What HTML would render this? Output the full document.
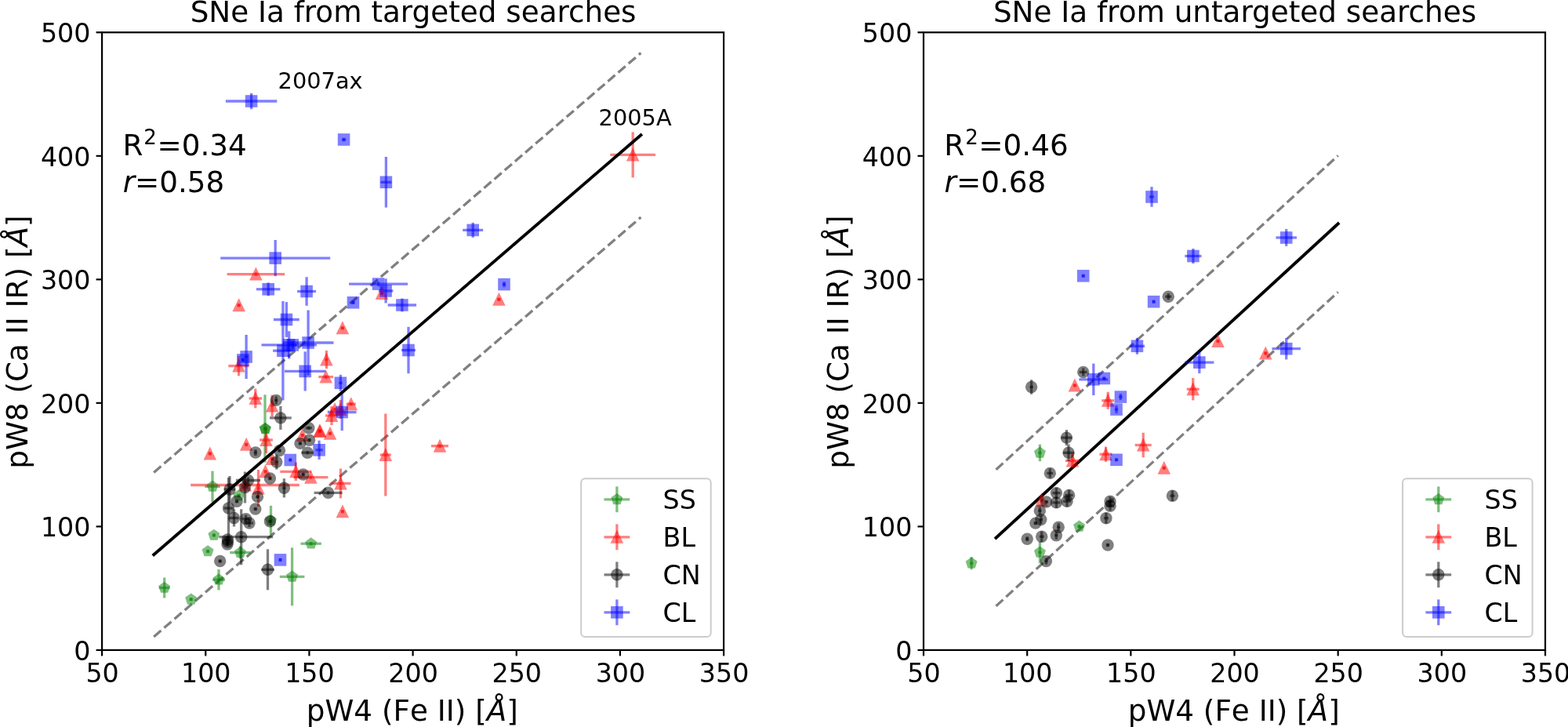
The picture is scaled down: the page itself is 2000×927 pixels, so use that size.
<!DOCTYPE html><html><head><meta charset="utf-8"><style>html,body{margin:0;padding:0;background:#fff;}svg{display:block;}text{font-family:'DejaVu Sans', 'Liberation Sans', sans-serif;} .nk{font-kerning:none;}</style></head><body>
<svg width="2000" height="927" viewBox="0 0 2000 927">
<rect x="0" y="0" width="2000" height="927" fill="#fff"/>
<line x1="196.20" y1="602.43" x2="817.40" y2="67.57" stroke="#808080" stroke-width="3.3" stroke-dasharray="12.13,5.24"/>
<line x1="196.20" y1="811.93" x2="817.40" y2="277.07" stroke="#808080" stroke-width="3.3" stroke-dasharray="12.13,5.24"/>
<line x1="335.80" y1="546.50" x2="340.20" y2="546.50" stroke="#008000" stroke-opacity="0.5" stroke-width="3.3"/>
<line x1="338.00" y1="503.30" x2="338.00" y2="589.70" stroke="#008000" stroke-opacity="0.5" stroke-width="3.3"/>
<line x1="336.40" y1="546.90" x2="340.80" y2="546.90" stroke="#008000" stroke-opacity="0.5" stroke-width="3.3"/>
<line x1="338.60" y1="544.70" x2="338.60" y2="549.10" stroke="#008000" stroke-opacity="0.5" stroke-width="3.3"/>
<line x1="261.30" y1="620.40" x2="280.70" y2="620.40" stroke="#008000" stroke-opacity="0.5" stroke-width="3.3"/>
<line x1="271.00" y1="600.60" x2="271.00" y2="640.20" stroke="#008000" stroke-opacity="0.5" stroke-width="3.3"/>
<line x1="302.40" y1="631.90" x2="306.80" y2="631.90" stroke="#008000" stroke-opacity="0.5" stroke-width="3.3"/>
<line x1="304.60" y1="629.70" x2="304.60" y2="634.10" stroke="#008000" stroke-opacity="0.5" stroke-width="3.3"/>
<line x1="270.70" y1="682.50" x2="275.10" y2="682.50" stroke="#008000" stroke-opacity="0.5" stroke-width="3.3"/>
<line x1="272.90" y1="680.30" x2="272.90" y2="684.70" stroke="#008000" stroke-opacity="0.5" stroke-width="3.3"/>
<line x1="262.90" y1="703.00" x2="267.30" y2="703.00" stroke="#008000" stroke-opacity="0.5" stroke-width="3.3"/>
<line x1="265.10" y1="700.80" x2="265.10" y2="705.20" stroke="#008000" stroke-opacity="0.5" stroke-width="3.3"/>
<line x1="293.20" y1="704.60" x2="319.60" y2="704.60" stroke="#008000" stroke-opacity="0.5" stroke-width="3.3"/>
<line x1="306.40" y1="696.60" x2="306.40" y2="712.60" stroke="#008000" stroke-opacity="0.5" stroke-width="3.3"/>
<line x1="271.00" y1="739.20" x2="287.00" y2="739.20" stroke="#008000" stroke-opacity="0.5" stroke-width="3.3"/>
<line x1="279.00" y1="726.00" x2="279.00" y2="752.40" stroke="#008000" stroke-opacity="0.5" stroke-width="3.3"/>
<line x1="343.30" y1="663.70" x2="347.70" y2="663.70" stroke="#008000" stroke-opacity="0.5" stroke-width="3.3"/>
<line x1="345.50" y1="644.80" x2="345.50" y2="682.60" stroke="#008000" stroke-opacity="0.5" stroke-width="3.3"/>
<line x1="356.80" y1="735.30" x2="388.40" y2="735.30" stroke="#008000" stroke-opacity="0.5" stroke-width="3.3"/>
<line x1="372.60" y1="698.30" x2="372.60" y2="772.30" stroke="#008000" stroke-opacity="0.5" stroke-width="3.3"/>
<line x1="383.50" y1="693.20" x2="409.90" y2="693.20" stroke="#008000" stroke-opacity="0.5" stroke-width="3.3"/>
<line x1="396.70" y1="691.00" x2="396.70" y2="695.40" stroke="#008000" stroke-opacity="0.5" stroke-width="3.3"/>
<line x1="202.70" y1="749.50" x2="216.70" y2="749.50" stroke="#008000" stroke-opacity="0.5" stroke-width="3.3"/>
<line x1="209.70" y1="736.50" x2="209.70" y2="762.50" stroke="#008000" stroke-opacity="0.5" stroke-width="3.3"/>
<line x1="241.50" y1="764.30" x2="245.90" y2="764.30" stroke="#008000" stroke-opacity="0.5" stroke-width="3.3"/>
<line x1="243.70" y1="762.10" x2="243.70" y2="766.50" stroke="#008000" stroke-opacity="0.5" stroke-width="3.3"/>
<line x1="289.60" y1="349.60" x2="363.20" y2="349.60" stroke="#ff0000" stroke-opacity="0.5" stroke-width="3.3"/>
<line x1="326.40" y1="347.40" x2="326.40" y2="351.80" stroke="#ff0000" stroke-opacity="0.5" stroke-width="3.3"/>
<line x1="302.50" y1="389.30" x2="306.90" y2="389.30" stroke="#ff0000" stroke-opacity="0.5" stroke-width="3.3"/>
<line x1="304.70" y1="387.10" x2="304.70" y2="391.50" stroke="#ff0000" stroke-opacity="0.5" stroke-width="3.3"/>
<line x1="484.80" y1="374.00" x2="489.20" y2="374.00" stroke="#ff0000" stroke-opacity="0.5" stroke-width="3.3"/>
<line x1="487.00" y1="371.80" x2="487.00" y2="376.20" stroke="#ff0000" stroke-opacity="0.5" stroke-width="3.3"/>
<line x1="434.70" y1="418.30" x2="439.10" y2="418.30" stroke="#ff0000" stroke-opacity="0.5" stroke-width="3.3"/>
<line x1="436.90" y1="416.10" x2="436.90" y2="420.50" stroke="#ff0000" stroke-opacity="0.5" stroke-width="3.3"/>
<line x1="291.30" y1="466.60" x2="317.70" y2="466.60" stroke="#ff0000" stroke-opacity="0.5" stroke-width="3.3"/>
<line x1="304.50" y1="453.90" x2="304.50" y2="479.30" stroke="#ff0000" stroke-opacity="0.5" stroke-width="3.3"/>
<line x1="414.20" y1="458.50" x2="418.60" y2="458.50" stroke="#ff0000" stroke-opacity="0.5" stroke-width="3.3"/>
<line x1="416.40" y1="446.90" x2="416.40" y2="470.10" stroke="#ff0000" stroke-opacity="0.5" stroke-width="3.3"/>
<line x1="406.30" y1="480.60" x2="425.10" y2="480.60" stroke="#ff0000" stroke-opacity="0.5" stroke-width="3.3"/>
<line x1="415.70" y1="478.40" x2="415.70" y2="482.80" stroke="#ff0000" stroke-opacity="0.5" stroke-width="3.3"/>
<line x1="317.60" y1="508.00" x2="334.00" y2="508.00" stroke="#ff0000" stroke-opacity="0.5" stroke-width="3.3"/>
<line x1="325.80" y1="495.60" x2="325.80" y2="520.40" stroke="#ff0000" stroke-opacity="0.5" stroke-width="3.3"/>
<line x1="344.90" y1="517.40" x2="349.30" y2="517.40" stroke="#ff0000" stroke-opacity="0.5" stroke-width="3.3"/>
<line x1="347.10" y1="503.60" x2="347.10" y2="531.20" stroke="#ff0000" stroke-opacity="0.5" stroke-width="3.3"/>
<line x1="441.80" y1="515.20" x2="453.80" y2="515.20" stroke="#ff0000" stroke-opacity="0.5" stroke-width="3.3"/>
<line x1="447.80" y1="513.00" x2="447.80" y2="517.40" stroke="#ff0000" stroke-opacity="0.5" stroke-width="3.3"/>
<line x1="432.10" y1="522.00" x2="436.50" y2="522.00" stroke="#ff0000" stroke-opacity="0.5" stroke-width="3.3"/>
<line x1="434.30" y1="510.00" x2="434.30" y2="534.00" stroke="#ff0000" stroke-opacity="0.5" stroke-width="3.3"/>
<line x1="415.00" y1="530.00" x2="431.00" y2="530.00" stroke="#ff0000" stroke-opacity="0.5" stroke-width="3.3"/>
<line x1="423.00" y1="518.00" x2="423.00" y2="542.00" stroke="#ff0000" stroke-opacity="0.5" stroke-width="3.3"/>
<line x1="424.80" y1="522.00" x2="429.20" y2="522.00" stroke="#ff0000" stroke-opacity="0.5" stroke-width="3.3"/>
<line x1="427.00" y1="519.80" x2="427.00" y2="524.20" stroke="#ff0000" stroke-opacity="0.5" stroke-width="3.3"/>
<line x1="406.00" y1="549.40" x2="410.40" y2="549.40" stroke="#ff0000" stroke-opacity="0.5" stroke-width="3.3"/>
<line x1="408.20" y1="547.20" x2="408.20" y2="551.60" stroke="#ff0000" stroke-opacity="0.5" stroke-width="3.3"/>
<line x1="405.40" y1="549.80" x2="409.80" y2="549.80" stroke="#ff0000" stroke-opacity="0.5" stroke-width="3.3"/>
<line x1="407.60" y1="547.60" x2="407.60" y2="552.00" stroke="#ff0000" stroke-opacity="0.5" stroke-width="3.3"/>
<line x1="418.80" y1="552.80" x2="423.20" y2="552.80" stroke="#ff0000" stroke-opacity="0.5" stroke-width="3.3"/>
<line x1="421.00" y1="550.60" x2="421.00" y2="555.00" stroke="#ff0000" stroke-opacity="0.5" stroke-width="3.3"/>
<line x1="331.10" y1="561.00" x2="347.90" y2="561.00" stroke="#ff0000" stroke-opacity="0.5" stroke-width="3.3"/>
<line x1="339.50" y1="544.00" x2="339.50" y2="578.00" stroke="#ff0000" stroke-opacity="0.5" stroke-width="3.3"/>
<line x1="312.00" y1="566.80" x2="316.40" y2="566.80" stroke="#ff0000" stroke-opacity="0.5" stroke-width="3.3"/>
<line x1="314.20" y1="564.60" x2="314.20" y2="569.00" stroke="#ff0000" stroke-opacity="0.5" stroke-width="3.3"/>
<line x1="383.50" y1="554.90" x2="387.90" y2="554.90" stroke="#ff0000" stroke-opacity="0.5" stroke-width="3.3"/>
<line x1="385.70" y1="552.70" x2="385.70" y2="557.10" stroke="#ff0000" stroke-opacity="0.5" stroke-width="3.3"/>
<line x1="265.60" y1="578.40" x2="270.00" y2="578.40" stroke="#ff0000" stroke-opacity="0.5" stroke-width="3.3"/>
<line x1="267.80" y1="576.20" x2="267.80" y2="580.60" stroke="#ff0000" stroke-opacity="0.5" stroke-width="3.3"/>
<line x1="344.80" y1="585.00" x2="349.20" y2="585.00" stroke="#ff0000" stroke-opacity="0.5" stroke-width="3.3"/>
<line x1="347.00" y1="582.80" x2="347.00" y2="587.20" stroke="#ff0000" stroke-opacity="0.5" stroke-width="3.3"/>
<line x1="357.30" y1="601.30" x2="397.30" y2="601.30" stroke="#ff0000" stroke-opacity="0.5" stroke-width="3.3"/>
<line x1="377.30" y1="589.50" x2="377.30" y2="613.10" stroke="#ff0000" stroke-opacity="0.5" stroke-width="3.3"/>
<line x1="374.40" y1="608.70" x2="418.40" y2="608.70" stroke="#ff0000" stroke-opacity="0.5" stroke-width="3.3"/>
<line x1="396.40" y1="606.50" x2="396.40" y2="610.90" stroke="#ff0000" stroke-opacity="0.5" stroke-width="3.3"/>
<line x1="336.30" y1="601.30" x2="340.70" y2="601.30" stroke="#ff0000" stroke-opacity="0.5" stroke-width="3.3"/>
<line x1="338.50" y1="599.10" x2="338.50" y2="603.50" stroke="#ff0000" stroke-opacity="0.5" stroke-width="3.3"/>
<line x1="327.30" y1="622.50" x2="331.70" y2="622.50" stroke="#ff0000" stroke-opacity="0.5" stroke-width="3.3"/>
<line x1="329.50" y1="599.00" x2="329.50" y2="646.00" stroke="#ff0000" stroke-opacity="0.5" stroke-width="3.3"/>
<line x1="243.20" y1="618.50" x2="381.80" y2="618.50" stroke="#ff0000" stroke-opacity="0.5" stroke-width="3.3"/>
<line x1="312.50" y1="616.30" x2="312.50" y2="620.70" stroke="#ff0000" stroke-opacity="0.5" stroke-width="3.3"/>
<line x1="421.50" y1="616.40" x2="447.50" y2="616.40" stroke="#ff0000" stroke-opacity="0.5" stroke-width="3.3"/>
<line x1="434.50" y1="597.50" x2="434.50" y2="635.30" stroke="#ff0000" stroke-opacity="0.5" stroke-width="3.3"/>
<line x1="434.70" y1="652.20" x2="439.10" y2="652.20" stroke="#ff0000" stroke-opacity="0.5" stroke-width="3.3"/>
<line x1="436.90" y1="650.00" x2="436.90" y2="654.40" stroke="#ff0000" stroke-opacity="0.5" stroke-width="3.3"/>
<line x1="484.80" y1="580.00" x2="498.80" y2="580.00" stroke="#ff0000" stroke-opacity="0.5" stroke-width="3.3"/>
<line x1="491.80" y1="527.50" x2="491.80" y2="632.50" stroke="#ff0000" stroke-opacity="0.5" stroke-width="3.3"/>
<line x1="550.00" y1="568.70" x2="572.00" y2="568.70" stroke="#ff0000" stroke-opacity="0.5" stroke-width="3.3"/>
<line x1="561.00" y1="566.50" x2="561.00" y2="570.90" stroke="#ff0000" stroke-opacity="0.5" stroke-width="3.3"/>
<line x1="634.20" y1="381.80" x2="638.60" y2="381.80" stroke="#ff0000" stroke-opacity="0.5" stroke-width="3.3"/>
<line x1="636.40" y1="379.60" x2="636.40" y2="384.00" stroke="#ff0000" stroke-opacity="0.5" stroke-width="3.3"/>
<line x1="778.30" y1="197.40" x2="836.10" y2="197.40" stroke="#ff0000" stroke-opacity="0.5" stroke-width="3.3"/>
<line x1="807.20" y1="168.40" x2="807.20" y2="226.40" stroke="#ff0000" stroke-opacity="0.5" stroke-width="3.3"/>
<line x1="350.00" y1="510.40" x2="354.40" y2="510.40" stroke="#000000" stroke-opacity="0.5" stroke-width="3.3"/>
<line x1="352.20" y1="505.40" x2="352.20" y2="515.40" stroke="#000000" stroke-opacity="0.5" stroke-width="3.3"/>
<line x1="344.00" y1="532.90" x2="371.80" y2="532.90" stroke="#000000" stroke-opacity="0.5" stroke-width="3.3"/>
<line x1="357.90" y1="517.90" x2="357.90" y2="547.90" stroke="#000000" stroke-opacity="0.5" stroke-width="3.3"/>
<line x1="389.80" y1="545.70" x2="397.80" y2="545.70" stroke="#000000" stroke-opacity="0.5" stroke-width="3.3"/>
<line x1="393.80" y1="543.50" x2="393.80" y2="547.90" stroke="#000000" stroke-opacity="0.5" stroke-width="3.3"/>
<line x1="392.40" y1="561.20" x2="396.80" y2="561.20" stroke="#000000" stroke-opacity="0.5" stroke-width="3.3"/>
<line x1="394.60" y1="559.00" x2="394.60" y2="563.40" stroke="#000000" stroke-opacity="0.5" stroke-width="3.3"/>
<line x1="380.70" y1="565.40" x2="385.10" y2="565.40" stroke="#000000" stroke-opacity="0.5" stroke-width="3.3"/>
<line x1="382.90" y1="563.20" x2="382.90" y2="567.60" stroke="#000000" stroke-opacity="0.5" stroke-width="3.3"/>
<line x1="384.60" y1="577.20" x2="399.80" y2="577.20" stroke="#000000" stroke-opacity="0.5" stroke-width="3.3"/>
<line x1="392.20" y1="575.00" x2="392.20" y2="579.40" stroke="#000000" stroke-opacity="0.5" stroke-width="3.3"/>
<line x1="323.70" y1="577.00" x2="328.10" y2="577.00" stroke="#000000" stroke-opacity="0.5" stroke-width="3.3"/>
<line x1="325.90" y1="573.00" x2="325.90" y2="581.00" stroke="#000000" stroke-opacity="0.5" stroke-width="3.3"/>
<line x1="354.30" y1="574.50" x2="358.70" y2="574.50" stroke="#000000" stroke-opacity="0.5" stroke-width="3.3"/>
<line x1="356.50" y1="572.30" x2="356.50" y2="576.70" stroke="#000000" stroke-opacity="0.5" stroke-width="3.3"/>
<line x1="350.60" y1="589.10" x2="355.00" y2="589.10" stroke="#000000" stroke-opacity="0.5" stroke-width="3.3"/>
<line x1="352.80" y1="579.60" x2="352.80" y2="598.60" stroke="#000000" stroke-opacity="0.5" stroke-width="3.3"/>
<line x1="384.50" y1="605.00" x2="388.90" y2="605.00" stroke="#000000" stroke-opacity="0.5" stroke-width="3.3"/>
<line x1="386.70" y1="602.80" x2="386.70" y2="607.20" stroke="#000000" stroke-opacity="0.5" stroke-width="3.3"/>
<line x1="342.20" y1="610.00" x2="346.60" y2="610.00" stroke="#000000" stroke-opacity="0.5" stroke-width="3.3"/>
<line x1="344.40" y1="607.80" x2="344.40" y2="612.20" stroke="#000000" stroke-opacity="0.5" stroke-width="3.3"/>
<line x1="300.90" y1="612.50" x2="332.10" y2="612.50" stroke="#000000" stroke-opacity="0.5" stroke-width="3.3"/>
<line x1="316.50" y1="608.50" x2="316.50" y2="616.50" stroke="#000000" stroke-opacity="0.5" stroke-width="3.3"/>
<line x1="308.50" y1="621.50" x2="316.50" y2="621.50" stroke="#000000" stroke-opacity="0.5" stroke-width="3.3"/>
<line x1="312.50" y1="601.50" x2="312.50" y2="641.50" stroke="#000000" stroke-opacity="0.5" stroke-width="3.3"/>
<line x1="286.00" y1="624.00" x2="300.00" y2="624.00" stroke="#000000" stroke-opacity="0.5" stroke-width="3.3"/>
<line x1="293.00" y1="607.00" x2="293.00" y2="641.00" stroke="#000000" stroke-opacity="0.5" stroke-width="3.3"/>
<line x1="299.90" y1="639.30" x2="304.30" y2="639.30" stroke="#000000" stroke-opacity="0.5" stroke-width="3.3"/>
<line x1="302.10" y1="637.10" x2="302.10" y2="641.50" stroke="#000000" stroke-opacity="0.5" stroke-width="3.3"/>
<line x1="360.20" y1="622.30" x2="364.60" y2="622.30" stroke="#000000" stroke-opacity="0.5" stroke-width="3.3"/>
<line x1="362.40" y1="610.20" x2="362.40" y2="634.40" stroke="#000000" stroke-opacity="0.5" stroke-width="3.3"/>
<line x1="326.30" y1="633.40" x2="330.70" y2="633.40" stroke="#000000" stroke-opacity="0.5" stroke-width="3.3"/>
<line x1="328.50" y1="631.20" x2="328.50" y2="635.60" stroke="#000000" stroke-opacity="0.5" stroke-width="3.3"/>
<line x1="323.60" y1="649.00" x2="328.00" y2="649.00" stroke="#000000" stroke-opacity="0.5" stroke-width="3.3"/>
<line x1="325.80" y1="646.80" x2="325.80" y2="651.20" stroke="#000000" stroke-opacity="0.5" stroke-width="3.3"/>
<line x1="400.60" y1="628.30" x2="436.60" y2="628.30" stroke="#000000" stroke-opacity="0.5" stroke-width="3.3"/>
<line x1="418.60" y1="626.10" x2="418.60" y2="630.50" stroke="#000000" stroke-opacity="0.5" stroke-width="3.3"/>
<line x1="285.50" y1="648.00" x2="297.50" y2="648.00" stroke="#000000" stroke-opacity="0.5" stroke-width="3.3"/>
<line x1="291.50" y1="609.00" x2="291.50" y2="687.00" stroke="#000000" stroke-opacity="0.5" stroke-width="3.3"/>
<line x1="292.50" y1="660.50" x2="304.50" y2="660.50" stroke="#000000" stroke-opacity="0.5" stroke-width="3.3"/>
<line x1="298.50" y1="649.50" x2="298.50" y2="671.50" stroke="#000000" stroke-opacity="0.5" stroke-width="3.3"/>
<line x1="308.60" y1="661.60" x2="318.60" y2="661.60" stroke="#000000" stroke-opacity="0.5" stroke-width="3.3"/>
<line x1="313.60" y1="656.60" x2="313.60" y2="666.60" stroke="#000000" stroke-opacity="0.5" stroke-width="3.3"/>
<line x1="313.00" y1="667.00" x2="323.00" y2="667.00" stroke="#000000" stroke-opacity="0.5" stroke-width="3.3"/>
<line x1="318.00" y1="662.00" x2="318.00" y2="672.00" stroke="#000000" stroke-opacity="0.5" stroke-width="3.3"/>
<line x1="305.50" y1="684.80" x2="309.90" y2="684.80" stroke="#000000" stroke-opacity="0.5" stroke-width="3.3"/>
<line x1="307.70" y1="649.30" x2="307.70" y2="720.30" stroke="#000000" stroke-opacity="0.5" stroke-width="3.3"/>
<line x1="279.30" y1="684.60" x2="348.20" y2="684.60" stroke="#000000" stroke-opacity="0.5" stroke-width="3.3"/>
<line x1="286.30" y1="688.00" x2="294.30" y2="688.00" stroke="#000000" stroke-opacity="0.5" stroke-width="3.3"/>
<line x1="290.30" y1="684.00" x2="290.30" y2="692.00" stroke="#000000" stroke-opacity="0.5" stroke-width="3.3"/>
<line x1="288.30" y1="691.00" x2="292.70" y2="691.00" stroke="#000000" stroke-opacity="0.5" stroke-width="3.3"/>
<line x1="290.50" y1="688.80" x2="290.50" y2="693.20" stroke="#000000" stroke-opacity="0.5" stroke-width="3.3"/>
<line x1="287.80" y1="694.00" x2="292.20" y2="694.00" stroke="#000000" stroke-opacity="0.5" stroke-width="3.3"/>
<line x1="290.00" y1="691.80" x2="290.00" y2="696.20" stroke="#000000" stroke-opacity="0.5" stroke-width="3.3"/>
<line x1="278.50" y1="715.50" x2="282.90" y2="715.50" stroke="#000000" stroke-opacity="0.5" stroke-width="3.3"/>
<line x1="280.70" y1="713.30" x2="280.70" y2="717.70" stroke="#000000" stroke-opacity="0.5" stroke-width="3.3"/>
<line x1="342.20" y1="664.80" x2="346.60" y2="664.80" stroke="#000000" stroke-opacity="0.5" stroke-width="3.3"/>
<line x1="344.40" y1="662.60" x2="344.40" y2="667.00" stroke="#000000" stroke-opacity="0.5" stroke-width="3.3"/>
<line x1="333.10" y1="726.30" x2="349.90" y2="726.30" stroke="#000000" stroke-opacity="0.5" stroke-width="3.3"/>
<line x1="341.50" y1="700.30" x2="341.50" y2="752.30" stroke="#000000" stroke-opacity="0.5" stroke-width="3.3"/>
<line x1="287.90" y1="129.00" x2="353.30" y2="129.00" stroke="#0000ff" stroke-opacity="0.5" stroke-width="3.3"/>
<line x1="320.60" y1="118.80" x2="320.60" y2="139.20" stroke="#0000ff" stroke-opacity="0.5" stroke-width="3.3"/>
<line x1="435.90" y1="178.00" x2="441.30" y2="178.00" stroke="#0000ff" stroke-opacity="0.5" stroke-width="3.3"/>
<line x1="438.60" y1="175.80" x2="438.60" y2="180.20" stroke="#0000ff" stroke-opacity="0.5" stroke-width="3.3"/>
<line x1="485.40" y1="232.30" x2="499.40" y2="232.30" stroke="#0000ff" stroke-opacity="0.5" stroke-width="3.3"/>
<line x1="492.40" y1="200.00" x2="492.40" y2="264.60" stroke="#0000ff" stroke-opacity="0.5" stroke-width="3.3"/>
<line x1="281.20" y1="329.10" x2="421.20" y2="329.10" stroke="#0000ff" stroke-opacity="0.5" stroke-width="3.3"/>
<line x1="351.20" y1="306.00" x2="351.20" y2="352.20" stroke="#0000ff" stroke-opacity="0.5" stroke-width="3.3"/>
<line x1="327.00" y1="368.80" x2="357.40" y2="368.80" stroke="#0000ff" stroke-opacity="0.5" stroke-width="3.3"/>
<line x1="342.20" y1="360.30" x2="342.20" y2="377.30" stroke="#0000ff" stroke-opacity="0.5" stroke-width="3.3"/>
<line x1="379.10" y1="371.50" x2="403.10" y2="371.50" stroke="#0000ff" stroke-opacity="0.5" stroke-width="3.3"/>
<line x1="391.10" y1="353.20" x2="391.10" y2="389.80" stroke="#0000ff" stroke-opacity="0.5" stroke-width="3.3"/>
<line x1="349.00" y1="407.50" x2="381.80" y2="407.50" stroke="#0000ff" stroke-opacity="0.5" stroke-width="3.3"/>
<line x1="365.40" y1="385.10" x2="365.40" y2="429.90" stroke="#0000ff" stroke-opacity="0.5" stroke-width="3.3"/>
<line x1="333.50" y1="439.90" x2="403.90" y2="439.90" stroke="#0000ff" stroke-opacity="0.5" stroke-width="3.3"/>
<line x1="368.70" y1="422.30" x2="368.70" y2="457.50" stroke="#0000ff" stroke-opacity="0.5" stroke-width="3.3"/>
<line x1="368.30" y1="439.90" x2="378.30" y2="439.90" stroke="#0000ff" stroke-opacity="0.5" stroke-width="3.3"/>
<line x1="373.30" y1="434.90" x2="373.30" y2="444.90" stroke="#0000ff" stroke-opacity="0.5" stroke-width="3.3"/>
<line x1="348.10" y1="447.20" x2="373.70" y2="447.20" stroke="#0000ff" stroke-opacity="0.5" stroke-width="3.3"/>
<line x1="360.90" y1="384.00" x2="360.90" y2="510.40" stroke="#0000ff" stroke-opacity="0.5" stroke-width="3.3"/>
<line x1="360.70" y1="437.00" x2="425.50" y2="437.00" stroke="#0000ff" stroke-opacity="0.5" stroke-width="3.3"/>
<line x1="393.10" y1="395.50" x2="393.10" y2="478.50" stroke="#0000ff" stroke-opacity="0.5" stroke-width="3.3"/>
<line x1="363.00" y1="473.40" x2="415.40" y2="473.40" stroke="#0000ff" stroke-opacity="0.5" stroke-width="3.3"/>
<line x1="389.20" y1="448.30" x2="389.20" y2="498.50" stroke="#0000ff" stroke-opacity="0.5" stroke-width="3.3"/>
<line x1="448.30" y1="385.80" x2="452.70" y2="385.80" stroke="#0000ff" stroke-opacity="0.5" stroke-width="3.3"/>
<line x1="450.50" y1="383.60" x2="450.50" y2="388.00" stroke="#0000ff" stroke-opacity="0.5" stroke-width="3.3"/>
<line x1="445.10" y1="362.10" x2="520.10" y2="362.10" stroke="#0000ff" stroke-opacity="0.5" stroke-width="3.3"/>
<line x1="482.60" y1="359.10" x2="482.60" y2="365.10" stroke="#0000ff" stroke-opacity="0.5" stroke-width="3.3"/>
<line x1="482.80" y1="370.90" x2="501.40" y2="370.90" stroke="#0000ff" stroke-opacity="0.5" stroke-width="3.3"/>
<line x1="492.10" y1="355.30" x2="492.10" y2="386.50" stroke="#0000ff" stroke-opacity="0.5" stroke-width="3.3"/>
<line x1="494.70" y1="389.00" x2="531.10" y2="389.00" stroke="#0000ff" stroke-opacity="0.5" stroke-width="3.3"/>
<line x1="512.90" y1="380.60" x2="512.90" y2="397.40" stroke="#0000ff" stroke-opacity="0.5" stroke-width="3.3"/>
<line x1="311.90" y1="455.00" x2="316.30" y2="455.00" stroke="#0000ff" stroke-opacity="0.5" stroke-width="3.3"/>
<line x1="314.10" y1="426.90" x2="314.10" y2="483.10" stroke="#0000ff" stroke-opacity="0.5" stroke-width="3.3"/>
<line x1="307.70" y1="459.00" x2="312.10" y2="459.00" stroke="#0000ff" stroke-opacity="0.5" stroke-width="3.3"/>
<line x1="309.90" y1="456.80" x2="309.90" y2="461.20" stroke="#0000ff" stroke-opacity="0.5" stroke-width="3.3"/>
<line x1="432.20" y1="488.30" x2="436.60" y2="488.30" stroke="#0000ff" stroke-opacity="0.5" stroke-width="3.3"/>
<line x1="434.40" y1="477.90" x2="434.40" y2="498.70" stroke="#0000ff" stroke-opacity="0.5" stroke-width="3.3"/>
<line x1="512.00" y1="446.50" x2="530.00" y2="446.50" stroke="#0000ff" stroke-opacity="0.5" stroke-width="3.3"/>
<line x1="521.00" y1="416.80" x2="521.00" y2="476.20" stroke="#0000ff" stroke-opacity="0.5" stroke-width="3.3"/>
<line x1="417.80" y1="525.50" x2="454.60" y2="525.50" stroke="#0000ff" stroke-opacity="0.5" stroke-width="3.3"/>
<line x1="436.20" y1="501.90" x2="436.20" y2="549.10" stroke="#0000ff" stroke-opacity="0.5" stroke-width="3.3"/>
<line x1="402.40" y1="573.80" x2="411.80" y2="573.80" stroke="#0000ff" stroke-opacity="0.5" stroke-width="3.3"/>
<line x1="407.10" y1="561.70" x2="407.10" y2="585.90" stroke="#0000ff" stroke-opacity="0.5" stroke-width="3.3"/>
<line x1="368.10" y1="586.50" x2="372.50" y2="586.50" stroke="#0000ff" stroke-opacity="0.5" stroke-width="3.3"/>
<line x1="370.30" y1="584.30" x2="370.30" y2="588.70" stroke="#0000ff" stroke-opacity="0.5" stroke-width="3.3"/>
<line x1="355.30" y1="713.90" x2="359.70" y2="713.90" stroke="#0000ff" stroke-opacity="0.5" stroke-width="3.3"/>
<line x1="357.50" y1="711.70" x2="357.50" y2="716.10" stroke="#0000ff" stroke-opacity="0.5" stroke-width="3.3"/>
<line x1="590.20" y1="293.40" x2="616.20" y2="293.40" stroke="#0000ff" stroke-opacity="0.5" stroke-width="3.3"/>
<line x1="603.20" y1="283.90" x2="603.20" y2="302.90" stroke="#0000ff" stroke-opacity="0.5" stroke-width="3.3"/>
<line x1="640.80" y1="362.60" x2="645.20" y2="362.60" stroke="#0000ff" stroke-opacity="0.5" stroke-width="3.3"/>
<line x1="643.00" y1="359.10" x2="643.00" y2="366.10" stroke="#0000ff" stroke-opacity="0.5" stroke-width="3.3"/>
<polygon points="338.00,538.65 345.47,544.07 342.61,552.85 333.39,552.85 330.53,544.07" fill="#008000" fill-opacity="0.5"/>
<polygon points="338.60,539.05 346.07,544.47 343.21,553.25 333.99,553.25 331.13,544.47" fill="#008000" fill-opacity="0.5"/>
<polygon points="271.00,612.55 278.47,617.97 275.61,626.75 266.39,626.75 263.53,617.97" fill="#008000" fill-opacity="0.5"/>
<polygon points="304.60,624.05 312.07,629.47 309.21,638.25 299.99,638.25 297.13,629.47" fill="#008000" fill-opacity="0.5"/>
<polygon points="272.90,674.65 280.37,680.07 277.51,688.85 268.29,688.85 265.43,680.07" fill="#008000" fill-opacity="0.5"/>
<polygon points="265.10,695.15 272.57,700.57 269.71,709.35 260.49,709.35 257.63,700.57" fill="#008000" fill-opacity="0.5"/>
<polygon points="306.40,696.75 313.87,702.17 311.01,710.95 301.79,710.95 298.93,702.17" fill="#008000" fill-opacity="0.5"/>
<polygon points="279.00,731.35 286.47,736.77 283.61,745.55 274.39,745.55 271.53,736.77" fill="#008000" fill-opacity="0.5"/>
<polygon points="345.50,655.85 352.97,661.27 350.11,670.05 340.89,670.05 338.03,661.27" fill="#008000" fill-opacity="0.5"/>
<polygon points="372.60,727.45 380.07,732.87 377.21,741.65 367.99,741.65 365.13,732.87" fill="#008000" fill-opacity="0.5"/>
<polygon points="396.70,685.35 404.17,690.77 401.31,699.55 392.09,699.55 389.23,690.77" fill="#008000" fill-opacity="0.5"/>
<polygon points="209.70,741.65 217.17,747.07 214.31,755.85 205.09,755.85 202.23,747.07" fill="#008000" fill-opacity="0.5"/>
<polygon points="243.70,756.45 251.17,761.87 248.31,770.65 239.09,770.65 236.23,761.87" fill="#008000" fill-opacity="0.5"/>
<path d="M326.40,340.60L318.10,357.60L334.70,357.60Z" fill="#ff0000" fill-opacity="0.5"/>
<path d="M304.70,380.30L296.40,397.30L313.00,397.30Z" fill="#ff0000" fill-opacity="0.5"/>
<path d="M487.00,365.00L478.70,382.00L495.30,382.00Z" fill="#ff0000" fill-opacity="0.5"/>
<path d="M436.90,409.30L428.60,426.30L445.20,426.30Z" fill="#ff0000" fill-opacity="0.5"/>
<path d="M304.50,457.60L296.20,474.60L312.80,474.60Z" fill="#ff0000" fill-opacity="0.5"/>
<path d="M416.40,449.50L408.10,466.50L424.70,466.50Z" fill="#ff0000" fill-opacity="0.5"/>
<path d="M415.70,471.60L407.40,488.60L424.00,488.60Z" fill="#ff0000" fill-opacity="0.5"/>
<path d="M325.80,499.00L317.50,516.00L334.10,516.00Z" fill="#ff0000" fill-opacity="0.5"/>
<path d="M347.10,508.40L338.80,525.40L355.40,525.40Z" fill="#ff0000" fill-opacity="0.5"/>
<path d="M447.80,506.20L439.50,523.20L456.10,523.20Z" fill="#ff0000" fill-opacity="0.5"/>
<path d="M434.30,513.00L426.00,530.00L442.60,530.00Z" fill="#ff0000" fill-opacity="0.5"/>
<path d="M423.00,521.00L414.70,538.00L431.30,538.00Z" fill="#ff0000" fill-opacity="0.5"/>
<path d="M427.00,513.00L418.70,530.00L435.30,530.00Z" fill="#ff0000" fill-opacity="0.5"/>
<path d="M408.20,540.40L399.90,557.40L416.50,557.40Z" fill="#ff0000" fill-opacity="0.5"/>
<path d="M407.60,540.80L399.30,557.80L415.90,557.80Z" fill="#ff0000" fill-opacity="0.5"/>
<path d="M421.00,543.80L412.70,560.80L429.30,560.80Z" fill="#ff0000" fill-opacity="0.5"/>
<path d="M339.50,552.00L331.20,569.00L347.80,569.00Z" fill="#ff0000" fill-opacity="0.5"/>
<path d="M314.20,557.80L305.90,574.80L322.50,574.80Z" fill="#ff0000" fill-opacity="0.5"/>
<path d="M385.70,545.90L377.40,562.90L394.00,562.90Z" fill="#ff0000" fill-opacity="0.5"/>
<path d="M267.80,569.40L259.50,586.40L276.10,586.40Z" fill="#ff0000" fill-opacity="0.5"/>
<path d="M347.00,576.00L338.70,593.00L355.30,593.00Z" fill="#ff0000" fill-opacity="0.5"/>
<path d="M377.30,592.30L369.00,609.30L385.60,609.30Z" fill="#ff0000" fill-opacity="0.5"/>
<path d="M396.40,599.70L388.10,616.70L404.70,616.70Z" fill="#ff0000" fill-opacity="0.5"/>
<path d="M338.50,592.30L330.20,609.30L346.80,609.30Z" fill="#ff0000" fill-opacity="0.5"/>
<path d="M329.50,613.50L321.20,630.50L337.80,630.50Z" fill="#ff0000" fill-opacity="0.5"/>
<path d="M312.50,609.50L304.20,626.50L320.80,626.50Z" fill="#ff0000" fill-opacity="0.5"/>
<path d="M434.50,607.40L426.20,624.40L442.80,624.40Z" fill="#ff0000" fill-opacity="0.5"/>
<path d="M436.90,643.20L428.60,660.20L445.20,660.20Z" fill="#ff0000" fill-opacity="0.5"/>
<path d="M491.80,571.00L483.50,588.00L500.10,588.00Z" fill="#ff0000" fill-opacity="0.5"/>
<path d="M561.00,559.70L552.70,576.70L569.30,576.70Z" fill="#ff0000" fill-opacity="0.5"/>
<path d="M636.40,372.80L628.10,389.80L644.70,389.80Z" fill="#ff0000" fill-opacity="0.5"/>
<path d="M807.20,188.40L798.90,205.40L815.50,205.40Z" fill="#ff0000" fill-opacity="0.5"/>
<circle cx="352.20" cy="510.40" r="7.7" fill="#000000" fill-opacity="0.5"/>
<circle cx="357.90" cy="532.90" r="7.7" fill="#000000" fill-opacity="0.5"/>
<circle cx="393.80" cy="545.70" r="7.7" fill="#000000" fill-opacity="0.5"/>
<circle cx="394.60" cy="561.20" r="7.7" fill="#000000" fill-opacity="0.5"/>
<circle cx="382.90" cy="565.40" r="7.7" fill="#000000" fill-opacity="0.5"/>
<circle cx="392.20" cy="577.20" r="7.7" fill="#000000" fill-opacity="0.5"/>
<circle cx="325.90" cy="577.00" r="7.7" fill="#000000" fill-opacity="0.5"/>
<circle cx="356.50" cy="574.50" r="7.7" fill="#000000" fill-opacity="0.5"/>
<circle cx="352.80" cy="589.10" r="7.7" fill="#000000" fill-opacity="0.5"/>
<circle cx="386.70" cy="605.00" r="7.7" fill="#000000" fill-opacity="0.5"/>
<circle cx="344.40" cy="610.00" r="7.7" fill="#000000" fill-opacity="0.5"/>
<circle cx="316.50" cy="612.50" r="7.7" fill="#000000" fill-opacity="0.5"/>
<circle cx="312.50" cy="621.50" r="7.7" fill="#000000" fill-opacity="0.5"/>
<circle cx="293.00" cy="624.00" r="7.7" fill="#000000" fill-opacity="0.5"/>
<circle cx="302.10" cy="639.30" r="7.7" fill="#000000" fill-opacity="0.5"/>
<circle cx="362.40" cy="622.30" r="7.7" fill="#000000" fill-opacity="0.5"/>
<circle cx="328.50" cy="633.40" r="7.7" fill="#000000" fill-opacity="0.5"/>
<circle cx="325.80" cy="649.00" r="7.7" fill="#000000" fill-opacity="0.5"/>
<circle cx="418.60" cy="628.30" r="7.7" fill="#000000" fill-opacity="0.5"/>
<circle cx="291.50" cy="648.00" r="7.7" fill="#000000" fill-opacity="0.5"/>
<circle cx="298.50" cy="660.50" r="7.7" fill="#000000" fill-opacity="0.5"/>
<circle cx="313.60" cy="661.60" r="7.7" fill="#000000" fill-opacity="0.5"/>
<circle cx="318.00" cy="667.00" r="7.7" fill="#000000" fill-opacity="0.5"/>
<circle cx="307.70" cy="684.80" r="7.7" fill="#000000" fill-opacity="0.5"/>
<circle cx="290.30" cy="688.00" r="7.7" fill="#000000" fill-opacity="0.5"/>
<circle cx="290.50" cy="691.00" r="7.7" fill="#000000" fill-opacity="0.5"/>
<circle cx="290.00" cy="694.00" r="7.7" fill="#000000" fill-opacity="0.5"/>
<circle cx="280.70" cy="715.50" r="7.7" fill="#000000" fill-opacity="0.5"/>
<circle cx="344.40" cy="664.80" r="7.7" fill="#000000" fill-opacity="0.5"/>
<circle cx="341.50" cy="726.30" r="7.7" fill="#000000" fill-opacity="0.5"/>
<rect x="312.80" y="121.20" width="15.60" height="15.60" fill="#0000ff" fill-opacity="0.5"/>
<rect x="430.80" y="170.20" width="15.60" height="15.60" fill="#0000ff" fill-opacity="0.5"/>
<rect x="484.60" y="224.50" width="15.60" height="15.60" fill="#0000ff" fill-opacity="0.5"/>
<rect x="343.40" y="321.30" width="15.60" height="15.60" fill="#0000ff" fill-opacity="0.5"/>
<rect x="334.40" y="361.00" width="15.60" height="15.60" fill="#0000ff" fill-opacity="0.5"/>
<rect x="383.30" y="363.70" width="15.60" height="15.60" fill="#0000ff" fill-opacity="0.5"/>
<rect x="357.60" y="399.70" width="15.60" height="15.60" fill="#0000ff" fill-opacity="0.5"/>
<rect x="360.90" y="432.10" width="15.60" height="15.60" fill="#0000ff" fill-opacity="0.5"/>
<rect x="365.50" y="432.10" width="15.60" height="15.60" fill="#0000ff" fill-opacity="0.5"/>
<rect x="353.10" y="439.40" width="15.60" height="15.60" fill="#0000ff" fill-opacity="0.5"/>
<rect x="385.30" y="429.20" width="15.60" height="15.60" fill="#0000ff" fill-opacity="0.5"/>
<rect x="381.40" y="465.60" width="15.60" height="15.60" fill="#0000ff" fill-opacity="0.5"/>
<rect x="442.70" y="378.00" width="15.60" height="15.60" fill="#0000ff" fill-opacity="0.5"/>
<rect x="474.80" y="354.30" width="15.60" height="15.60" fill="#0000ff" fill-opacity="0.5"/>
<rect x="484.30" y="363.10" width="15.60" height="15.60" fill="#0000ff" fill-opacity="0.5"/>
<rect x="505.10" y="381.20" width="15.60" height="15.60" fill="#0000ff" fill-opacity="0.5"/>
<rect x="306.30" y="447.20" width="15.60" height="15.60" fill="#0000ff" fill-opacity="0.5"/>
<rect x="302.10" y="451.20" width="15.60" height="15.60" fill="#0000ff" fill-opacity="0.5"/>
<rect x="426.60" y="480.50" width="15.60" height="15.60" fill="#0000ff" fill-opacity="0.5"/>
<rect x="513.20" y="438.70" width="15.60" height="15.60" fill="#0000ff" fill-opacity="0.5"/>
<rect x="428.40" y="517.70" width="15.60" height="15.60" fill="#0000ff" fill-opacity="0.5"/>
<rect x="399.30" y="566.00" width="15.60" height="15.60" fill="#0000ff" fill-opacity="0.5"/>
<rect x="362.50" y="578.70" width="15.60" height="15.60" fill="#0000ff" fill-opacity="0.5"/>
<rect x="349.70" y="706.10" width="15.60" height="15.60" fill="#0000ff" fill-opacity="0.5"/>
<rect x="595.40" y="285.60" width="15.60" height="15.60" fill="#0000ff" fill-opacity="0.5"/>
<rect x="635.20" y="354.80" width="15.60" height="15.60" fill="#0000ff" fill-opacity="0.5"/>
<line x1="196.20" y1="707.18" x2="817.40" y2="172.32" stroke="#000000" stroke-width="3.9" stroke-linecap="square"/>
<rect x="130.10" y="41.30" width="793.00" height="787.60" fill="none" stroke="#000" stroke-width="2.2"/>
<line x1="130.10" y1="828.90" x2="130.10" y2="836.40" stroke="#000" stroke-width="2.2"/>
<text x="130.60" y="870.4" font-size="33.3" text-anchor="middle">50</text>
<line x1="262.27" y1="828.90" x2="262.27" y2="836.40" stroke="#000" stroke-width="2.2"/>
<text x="262.77" y="870.4" font-size="33.3" text-anchor="middle">100</text>
<line x1="394.43" y1="828.90" x2="394.43" y2="836.40" stroke="#000" stroke-width="2.2"/>
<text x="394.93" y="870.4" font-size="33.3" text-anchor="middle">150</text>
<line x1="526.60" y1="828.90" x2="526.60" y2="836.40" stroke="#000" stroke-width="2.2"/>
<text x="527.10" y="870.4" font-size="33.3" text-anchor="middle">200</text>
<line x1="658.77" y1="828.90" x2="658.77" y2="836.40" stroke="#000" stroke-width="2.2"/>
<text x="659.27" y="870.4" font-size="33.3" text-anchor="middle">250</text>
<line x1="790.93" y1="828.90" x2="790.93" y2="836.40" stroke="#000" stroke-width="2.2"/>
<text x="791.43" y="870.4" font-size="33.3" text-anchor="middle">300</text>
<line x1="923.10" y1="828.90" x2="923.10" y2="836.40" stroke="#000" stroke-width="2.2"/>
<text x="923.60" y="870.4" font-size="33.3" text-anchor="middle">350</text>
<line x1="122.60" y1="828.90" x2="130.10" y2="828.90" stroke="#000" stroke-width="2.2"/>
<text x="115.50" y="842.00" font-size="33.3" text-anchor="end">0</text>
<line x1="122.60" y1="671.38" x2="130.10" y2="671.38" stroke="#000" stroke-width="2.2"/>
<text x="115.50" y="684.48" font-size="33.3" text-anchor="end">100</text>
<line x1="122.60" y1="513.86" x2="130.10" y2="513.86" stroke="#000" stroke-width="2.2"/>
<text x="115.50" y="526.96" font-size="33.3" text-anchor="end">200</text>
<line x1="122.60" y1="356.34" x2="130.10" y2="356.34" stroke="#000" stroke-width="2.2"/>
<text x="115.50" y="369.44" font-size="33.3" text-anchor="end">300</text>
<line x1="122.60" y1="198.82" x2="130.10" y2="198.82" stroke="#000" stroke-width="2.2"/>
<text x="115.50" y="211.92" font-size="33.3" text-anchor="end">400</text>
<line x1="122.60" y1="41.30" x2="130.10" y2="41.30" stroke="#000" stroke-width="2.2"/>
<text x="115.50" y="54.40" font-size="33.3" text-anchor="end">500</text>
<text x="527.10" y="28.1" font-size="37.3" text-anchor="middle">SNe Ia from targeted searches</text>
<text x="525.80" y="919.2" font-size="37.3" text-anchor="middle" class="nk">pW4 (Fe II) [<tspan font-style="italic">Å</tspan>]</text>
<text transform="translate(34.50,436.10) rotate(-90)" x="0" y="0" font-size="37.3" text-anchor="middle" class="nk">pW8 (Ca II IR) [<tspan font-style="italic">Å</tspan>]</text>
<text x="156.40" y="197.9" font-size="37.3" class="nk">R<tspan font-size="26" dx="1" dy="-14">2</tspan><tspan dx="0.6" dy="14">=0.34</tspan></text>
<text x="156.70" y="245" font-size="37.3" class="nk"><tspan font-style="italic">r</tspan>=0.58</text>
<rect x="741.20" y="610.2" width="165.50" height="201.70" rx="5" ry="5" fill="#fff" fill-opacity="0.8" stroke="#cccccc" stroke-width="2"/>
<line x1="770.50" y1="636.80" x2="803.30" y2="636.80" stroke="#008000" stroke-opacity="0.5" stroke-width="3.3"/>
<line x1="786.90" y1="620.40" x2="786.90" y2="653.20" stroke="#008000" stroke-opacity="0.5" stroke-width="3.3"/>
<polygon points="786.90,628.95 794.37,634.37 791.51,643.15 782.29,643.15 779.43,634.37" fill="#008000" fill-opacity="0.5"/>
<text x="845.60" y="648.80" font-size="33.3">SS</text>
<line x1="770.50" y1="684.80" x2="803.30" y2="684.80" stroke="#ff0000" stroke-opacity="0.5" stroke-width="3.3"/>
<line x1="786.90" y1="668.40" x2="786.90" y2="701.20" stroke="#ff0000" stroke-opacity="0.5" stroke-width="3.3"/>
<path d="M786.90,675.80L778.60,692.80L795.20,692.80Z" fill="#ff0000" fill-opacity="0.5"/>
<text x="845.60" y="696.80" font-size="33.3">BL</text>
<line x1="770.50" y1="732.80" x2="803.30" y2="732.80" stroke="#000000" stroke-opacity="0.5" stroke-width="3.3"/>
<line x1="786.90" y1="716.40" x2="786.90" y2="749.20" stroke="#000000" stroke-opacity="0.5" stroke-width="3.3"/>
<circle cx="786.90" cy="732.80" r="7.7" fill="#000000" fill-opacity="0.5"/>
<text x="845.60" y="744.80" font-size="33.3">CN</text>
<line x1="770.50" y1="780.80" x2="803.30" y2="780.80" stroke="#0000ff" stroke-opacity="0.5" stroke-width="3.3"/>
<line x1="786.90" y1="764.40" x2="786.90" y2="797.20" stroke="#0000ff" stroke-opacity="0.5" stroke-width="3.3"/>
<rect x="779.10" y="773.00" width="15.60" height="15.60" fill="#0000ff" fill-opacity="0.5"/>
<text x="845.60" y="792.80" font-size="33.3">CL</text>
<line x1="1270.50" y1="598.80" x2="1706.70" y2="198.37" stroke="#808080" stroke-width="3.3" stroke-dasharray="12.13,5.24"/>
<line x1="1270.50" y1="772.80" x2="1706.70" y2="372.37" stroke="#808080" stroke-width="3.3" stroke-dasharray="12.13,5.24"/>
<line x1="1270.50" y1="685.80" x2="1706.70" y2="285.37" stroke="#000000" stroke-width="3.9" stroke-linecap="square"/>
<line x1="1324.20" y1="577.40" x2="1328.60" y2="577.40" stroke="#008000" stroke-opacity="0.5" stroke-width="3.3"/>
<line x1="1326.40" y1="566.60" x2="1326.40" y2="588.20" stroke="#008000" stroke-opacity="0.5" stroke-width="3.3"/>
<line x1="1374.40" y1="671.30" x2="1378.80" y2="671.30" stroke="#008000" stroke-opacity="0.5" stroke-width="3.3"/>
<line x1="1376.60" y1="669.10" x2="1376.60" y2="673.50" stroke="#008000" stroke-opacity="0.5" stroke-width="3.3"/>
<line x1="1324.20" y1="704.30" x2="1328.60" y2="704.30" stroke="#008000" stroke-opacity="0.5" stroke-width="3.3"/>
<line x1="1326.40" y1="690.30" x2="1326.40" y2="718.30" stroke="#008000" stroke-opacity="0.5" stroke-width="3.3"/>
<line x1="1236.90" y1="718.20" x2="1241.30" y2="718.20" stroke="#008000" stroke-opacity="0.5" stroke-width="3.3"/>
<line x1="1239.10" y1="710.20" x2="1239.10" y2="726.20" stroke="#008000" stroke-opacity="0.5" stroke-width="3.3"/>
<line x1="1551.30" y1="435.00" x2="1555.70" y2="435.00" stroke="#ff0000" stroke-opacity="0.5" stroke-width="3.3"/>
<line x1="1553.50" y1="432.80" x2="1553.50" y2="437.20" stroke="#ff0000" stroke-opacity="0.5" stroke-width="3.3"/>
<line x1="1612.10" y1="450.50" x2="1616.50" y2="450.50" stroke="#ff0000" stroke-opacity="0.5" stroke-width="3.3"/>
<line x1="1614.30" y1="448.30" x2="1614.30" y2="452.70" stroke="#ff0000" stroke-opacity="0.5" stroke-width="3.3"/>
<line x1="1513.70" y1="496.20" x2="1529.70" y2="496.20" stroke="#ff0000" stroke-opacity="0.5" stroke-width="3.3"/>
<line x1="1521.70" y1="482.00" x2="1521.70" y2="510.40" stroke="#ff0000" stroke-opacity="0.5" stroke-width="3.3"/>
<line x1="1368.70" y1="491.50" x2="1373.10" y2="491.50" stroke="#ff0000" stroke-opacity="0.5" stroke-width="3.3"/>
<line x1="1370.90" y1="489.30" x2="1370.90" y2="493.70" stroke="#ff0000" stroke-opacity="0.5" stroke-width="3.3"/>
<line x1="1405.20" y1="510.80" x2="1421.20" y2="510.80" stroke="#ff0000" stroke-opacity="0.5" stroke-width="3.3"/>
<line x1="1413.20" y1="499.80" x2="1413.20" y2="521.80" stroke="#ff0000" stroke-opacity="0.5" stroke-width="3.3"/>
<line x1="1358.90" y1="587.50" x2="1376.90" y2="587.50" stroke="#ff0000" stroke-opacity="0.5" stroke-width="3.3"/>
<line x1="1367.90" y1="578.50" x2="1367.90" y2="596.50" stroke="#ff0000" stroke-opacity="0.5" stroke-width="3.3"/>
<line x1="1402.50" y1="579.20" x2="1418.50" y2="579.20" stroke="#ff0000" stroke-opacity="0.5" stroke-width="3.3"/>
<line x1="1410.50" y1="569.50" x2="1410.50" y2="588.90" stroke="#ff0000" stroke-opacity="0.5" stroke-width="3.3"/>
<line x1="1447.70" y1="567.50" x2="1468.70" y2="567.50" stroke="#ff0000" stroke-opacity="0.5" stroke-width="3.3"/>
<line x1="1458.20" y1="551.80" x2="1458.20" y2="583.20" stroke="#ff0000" stroke-opacity="0.5" stroke-width="3.3"/>
<line x1="1482.60" y1="596.70" x2="1487.00" y2="596.70" stroke="#ff0000" stroke-opacity="0.5" stroke-width="3.3"/>
<line x1="1484.80" y1="594.50" x2="1484.80" y2="598.90" stroke="#ff0000" stroke-opacity="0.5" stroke-width="3.3"/>
<line x1="1326.30" y1="637.70" x2="1330.70" y2="637.70" stroke="#ff0000" stroke-opacity="0.5" stroke-width="3.3"/>
<line x1="1328.50" y1="635.50" x2="1328.50" y2="639.90" stroke="#ff0000" stroke-opacity="0.5" stroke-width="3.3"/>
<line x1="1486.20" y1="378.20" x2="1494.20" y2="378.20" stroke="#000000" stroke-opacity="0.5" stroke-width="3.3"/>
<line x1="1490.20" y1="374.20" x2="1490.20" y2="382.20" stroke="#000000" stroke-opacity="0.5" stroke-width="3.3"/>
<line x1="1376.70" y1="474.50" x2="1386.70" y2="474.50" stroke="#000000" stroke-opacity="0.5" stroke-width="3.3"/>
<line x1="1381.70" y1="469.50" x2="1381.70" y2="479.50" stroke="#000000" stroke-opacity="0.5" stroke-width="3.3"/>
<line x1="1313.40" y1="493.50" x2="1317.80" y2="493.50" stroke="#000000" stroke-opacity="0.5" stroke-width="3.3"/>
<line x1="1315.60" y1="484.20" x2="1315.60" y2="502.80" stroke="#000000" stroke-opacity="0.5" stroke-width="3.3"/>
<line x1="1353.40" y1="558.10" x2="1367.40" y2="558.10" stroke="#000000" stroke-opacity="0.5" stroke-width="3.3"/>
<line x1="1360.40" y1="548.10" x2="1360.40" y2="568.10" stroke="#000000" stroke-opacity="0.5" stroke-width="3.3"/>
<line x1="1356.00" y1="577.30" x2="1370.00" y2="577.30" stroke="#000000" stroke-opacity="0.5" stroke-width="3.3"/>
<line x1="1363.00" y1="566.50" x2="1363.00" y2="588.10" stroke="#000000" stroke-opacity="0.5" stroke-width="3.3"/>
<line x1="1335.30" y1="603.40" x2="1343.30" y2="603.40" stroke="#000000" stroke-opacity="0.5" stroke-width="3.3"/>
<line x1="1339.30" y1="597.40" x2="1339.30" y2="609.40" stroke="#000000" stroke-opacity="0.5" stroke-width="3.3"/>
<line x1="1492.40" y1="632.20" x2="1498.40" y2="632.20" stroke="#000000" stroke-opacity="0.5" stroke-width="3.3"/>
<line x1="1495.40" y1="625.50" x2="1495.40" y2="638.90" stroke="#000000" stroke-opacity="0.5" stroke-width="3.3"/>
<line x1="1342.40" y1="628.60" x2="1352.40" y2="628.60" stroke="#000000" stroke-opacity="0.5" stroke-width="3.3"/>
<line x1="1347.40" y1="621.60" x2="1347.40" y2="635.60" stroke="#000000" stroke-opacity="0.5" stroke-width="3.3"/>
<line x1="1358.60" y1="631.40" x2="1368.60" y2="631.40" stroke="#000000" stroke-opacity="0.5" stroke-width="3.3"/>
<line x1="1363.60" y1="624.40" x2="1363.60" y2="638.40" stroke="#000000" stroke-opacity="0.5" stroke-width="3.3"/>
<line x1="1342.40" y1="640.90" x2="1352.40" y2="640.90" stroke="#000000" stroke-opacity="0.5" stroke-width="3.3"/>
<line x1="1347.40" y1="633.90" x2="1347.40" y2="647.90" stroke="#000000" stroke-opacity="0.5" stroke-width="3.3"/>
<line x1="1356.00" y1="639.20" x2="1366.00" y2="639.20" stroke="#000000" stroke-opacity="0.5" stroke-width="3.3"/>
<line x1="1361.00" y1="632.20" x2="1361.00" y2="646.20" stroke="#000000" stroke-opacity="0.5" stroke-width="3.3"/>
<line x1="1332.40" y1="640.00" x2="1336.80" y2="640.00" stroke="#000000" stroke-opacity="0.5" stroke-width="3.3"/>
<line x1="1334.60" y1="637.80" x2="1334.60" y2="642.20" stroke="#000000" stroke-opacity="0.5" stroke-width="3.3"/>
<line x1="1324.10" y1="651.30" x2="1328.50" y2="651.30" stroke="#000000" stroke-opacity="0.5" stroke-width="3.3"/>
<line x1="1326.30" y1="646.30" x2="1326.30" y2="656.30" stroke="#000000" stroke-opacity="0.5" stroke-width="3.3"/>
<line x1="1325.60" y1="662.60" x2="1330.00" y2="662.60" stroke="#000000" stroke-opacity="0.5" stroke-width="3.3"/>
<line x1="1327.80" y1="657.60" x2="1327.80" y2="667.60" stroke="#000000" stroke-opacity="0.5" stroke-width="3.3"/>
<line x1="1318.60" y1="667.10" x2="1323.00" y2="667.10" stroke="#000000" stroke-opacity="0.5" stroke-width="3.3"/>
<line x1="1320.80" y1="664.90" x2="1320.80" y2="669.30" stroke="#000000" stroke-opacity="0.5" stroke-width="3.3"/>
<line x1="1411.00" y1="639.20" x2="1421.00" y2="639.20" stroke="#000000" stroke-opacity="0.5" stroke-width="3.3"/>
<line x1="1416.00" y1="633.20" x2="1416.00" y2="645.20" stroke="#000000" stroke-opacity="0.5" stroke-width="3.3"/>
<line x1="1411.00" y1="645.20" x2="1421.00" y2="645.20" stroke="#000000" stroke-opacity="0.5" stroke-width="3.3"/>
<line x1="1416.00" y1="639.20" x2="1416.00" y2="651.20" stroke="#000000" stroke-opacity="0.5" stroke-width="3.3"/>
<line x1="1407.90" y1="660.70" x2="1413.90" y2="660.70" stroke="#000000" stroke-opacity="0.5" stroke-width="3.3"/>
<line x1="1410.90" y1="653.70" x2="1410.90" y2="667.70" stroke="#000000" stroke-opacity="0.5" stroke-width="3.3"/>
<line x1="1348.00" y1="672.20" x2="1352.40" y2="672.20" stroke="#000000" stroke-opacity="0.5" stroke-width="3.3"/>
<line x1="1350.20" y1="667.20" x2="1350.20" y2="677.20" stroke="#000000" stroke-opacity="0.5" stroke-width="3.3"/>
<line x1="1345.10" y1="682.70" x2="1349.50" y2="682.70" stroke="#000000" stroke-opacity="0.5" stroke-width="3.3"/>
<line x1="1347.30" y1="677.70" x2="1347.30" y2="687.70" stroke="#000000" stroke-opacity="0.5" stroke-width="3.3"/>
<line x1="1325.70" y1="684.20" x2="1331.70" y2="684.20" stroke="#000000" stroke-opacity="0.5" stroke-width="3.3"/>
<line x1="1328.70" y1="677.50" x2="1328.70" y2="690.90" stroke="#000000" stroke-opacity="0.5" stroke-width="3.3"/>
<line x1="1308.00" y1="687.20" x2="1312.40" y2="687.20" stroke="#000000" stroke-opacity="0.5" stroke-width="3.3"/>
<line x1="1310.20" y1="684.20" x2="1310.20" y2="690.20" stroke="#000000" stroke-opacity="0.5" stroke-width="3.3"/>
<line x1="1332.20" y1="715.60" x2="1336.60" y2="715.60" stroke="#000000" stroke-opacity="0.5" stroke-width="3.3"/>
<line x1="1334.40" y1="711.60" x2="1334.40" y2="719.60" stroke="#000000" stroke-opacity="0.5" stroke-width="3.3"/>
<line x1="1410.80" y1="695.00" x2="1415.20" y2="695.00" stroke="#000000" stroke-opacity="0.5" stroke-width="3.3"/>
<line x1="1413.00" y1="692.80" x2="1413.00" y2="697.20" stroke="#000000" stroke-opacity="0.5" stroke-width="3.3"/>
<line x1="1466.00" y1="251.00" x2="1472.00" y2="251.00" stroke="#0000ff" stroke-opacity="0.5" stroke-width="3.3"/>
<line x1="1469.00" y1="238.20" x2="1469.00" y2="263.80" stroke="#0000ff" stroke-opacity="0.5" stroke-width="3.3"/>
<line x1="1511.30" y1="326.50" x2="1532.50" y2="326.50" stroke="#0000ff" stroke-opacity="0.5" stroke-width="3.3"/>
<line x1="1521.90" y1="317.00" x2="1521.90" y2="336.00" stroke="#0000ff" stroke-opacity="0.5" stroke-width="3.3"/>
<line x1="1627.40" y1="303.00" x2="1654.00" y2="303.00" stroke="#0000ff" stroke-opacity="0.5" stroke-width="3.3"/>
<line x1="1640.70" y1="292.10" x2="1640.70" y2="313.90" stroke="#0000ff" stroke-opacity="0.5" stroke-width="3.3"/>
<line x1="1379.50" y1="351.80" x2="1383.90" y2="351.80" stroke="#0000ff" stroke-opacity="0.5" stroke-width="3.3"/>
<line x1="1381.70" y1="349.60" x2="1381.70" y2="354.00" stroke="#0000ff" stroke-opacity="0.5" stroke-width="3.3"/>
<line x1="1469.40" y1="384.70" x2="1473.80" y2="384.70" stroke="#0000ff" stroke-opacity="0.5" stroke-width="3.3"/>
<line x1="1471.60" y1="382.50" x2="1471.60" y2="386.90" stroke="#0000ff" stroke-opacity="0.5" stroke-width="3.3"/>
<line x1="1440.70" y1="441.30" x2="1460.10" y2="441.30" stroke="#0000ff" stroke-opacity="0.5" stroke-width="3.3"/>
<line x1="1450.40" y1="430.80" x2="1450.40" y2="451.80" stroke="#0000ff" stroke-opacity="0.5" stroke-width="3.3"/>
<line x1="1511.20" y1="462.10" x2="1548.40" y2="462.10" stroke="#0000ff" stroke-opacity="0.5" stroke-width="3.3"/>
<line x1="1529.80" y1="448.10" x2="1529.80" y2="476.10" stroke="#0000ff" stroke-opacity="0.5" stroke-width="3.3"/>
<line x1="1622.50" y1="444.70" x2="1658.90" y2="444.70" stroke="#0000ff" stroke-opacity="0.5" stroke-width="3.3"/>
<line x1="1640.70" y1="431.00" x2="1640.70" y2="458.40" stroke="#0000ff" stroke-opacity="0.5" stroke-width="3.3"/>
<line x1="1376.30" y1="483.80" x2="1413.30" y2="483.80" stroke="#0000ff" stroke-opacity="0.5" stroke-width="3.3"/>
<line x1="1394.80" y1="463.60" x2="1394.80" y2="504.00" stroke="#0000ff" stroke-opacity="0.5" stroke-width="3.3"/>
<line x1="1406.10" y1="482.50" x2="1410.50" y2="482.50" stroke="#0000ff" stroke-opacity="0.5" stroke-width="3.3"/>
<line x1="1408.30" y1="480.30" x2="1408.30" y2="484.70" stroke="#0000ff" stroke-opacity="0.5" stroke-width="3.3"/>
<line x1="1427.20" y1="506.10" x2="1431.60" y2="506.10" stroke="#0000ff" stroke-opacity="0.5" stroke-width="3.3"/>
<line x1="1429.40" y1="502.10" x2="1429.40" y2="510.10" stroke="#0000ff" stroke-opacity="0.5" stroke-width="3.3"/>
<line x1="1421.80" y1="522.10" x2="1426.20" y2="522.10" stroke="#0000ff" stroke-opacity="0.5" stroke-width="3.3"/>
<line x1="1424.00" y1="517.10" x2="1424.00" y2="527.10" stroke="#0000ff" stroke-opacity="0.5" stroke-width="3.3"/>
<line x1="1421.80" y1="586.30" x2="1426.20" y2="586.30" stroke="#0000ff" stroke-opacity="0.5" stroke-width="3.3"/>
<line x1="1424.00" y1="584.10" x2="1424.00" y2="588.50" stroke="#0000ff" stroke-opacity="0.5" stroke-width="3.3"/>
<polygon points="1326.40,569.55 1333.87,574.97 1331.01,583.75 1321.79,583.75 1318.93,574.97" fill="#008000" fill-opacity="0.5"/>
<polygon points="1376.60,663.45 1384.07,668.87 1381.21,677.65 1371.99,677.65 1369.13,668.87" fill="#008000" fill-opacity="0.5"/>
<polygon points="1326.40,696.45 1333.87,701.87 1331.01,710.65 1321.79,710.65 1318.93,701.87" fill="#008000" fill-opacity="0.5"/>
<polygon points="1239.10,710.35 1246.57,715.77 1243.71,724.55 1234.49,724.55 1231.63,715.77" fill="#008000" fill-opacity="0.5"/>
<path d="M1553.50,426.00L1545.20,443.00L1561.80,443.00Z" fill="#ff0000" fill-opacity="0.5"/>
<path d="M1614.30,441.50L1606.00,458.50L1622.60,458.50Z" fill="#ff0000" fill-opacity="0.5"/>
<path d="M1521.70,487.20L1513.40,504.20L1530.00,504.20Z" fill="#ff0000" fill-opacity="0.5"/>
<path d="M1370.90,482.50L1362.60,499.50L1379.20,499.50Z" fill="#ff0000" fill-opacity="0.5"/>
<path d="M1413.20,501.80L1404.90,518.80L1421.50,518.80Z" fill="#ff0000" fill-opacity="0.5"/>
<path d="M1367.90,578.50L1359.60,595.50L1376.20,595.50Z" fill="#ff0000" fill-opacity="0.5"/>
<path d="M1410.50,570.20L1402.20,587.20L1418.80,587.20Z" fill="#ff0000" fill-opacity="0.5"/>
<path d="M1458.20,558.50L1449.90,575.50L1466.50,575.50Z" fill="#ff0000" fill-opacity="0.5"/>
<path d="M1484.80,587.70L1476.50,604.70L1493.10,604.70Z" fill="#ff0000" fill-opacity="0.5"/>
<path d="M1328.50,628.70L1320.20,645.70L1336.80,645.70Z" fill="#ff0000" fill-opacity="0.5"/>
<circle cx="1490.20" cy="378.20" r="7.7" fill="#000000" fill-opacity="0.5"/>
<circle cx="1381.70" cy="474.50" r="7.7" fill="#000000" fill-opacity="0.5"/>
<circle cx="1315.60" cy="493.50" r="7.7" fill="#000000" fill-opacity="0.5"/>
<circle cx="1360.40" cy="558.10" r="7.7" fill="#000000" fill-opacity="0.5"/>
<circle cx="1363.00" cy="577.30" r="7.7" fill="#000000" fill-opacity="0.5"/>
<circle cx="1339.30" cy="603.40" r="7.7" fill="#000000" fill-opacity="0.5"/>
<circle cx="1495.40" cy="632.20" r="7.7" fill="#000000" fill-opacity="0.5"/>
<circle cx="1347.40" cy="628.60" r="7.7" fill="#000000" fill-opacity="0.5"/>
<circle cx="1363.60" cy="631.40" r="7.7" fill="#000000" fill-opacity="0.5"/>
<circle cx="1347.40" cy="640.90" r="7.7" fill="#000000" fill-opacity="0.5"/>
<circle cx="1361.00" cy="639.20" r="7.7" fill="#000000" fill-opacity="0.5"/>
<circle cx="1334.60" cy="640.00" r="7.7" fill="#000000" fill-opacity="0.5"/>
<circle cx="1326.30" cy="651.30" r="7.7" fill="#000000" fill-opacity="0.5"/>
<circle cx="1327.80" cy="662.60" r="7.7" fill="#000000" fill-opacity="0.5"/>
<circle cx="1320.80" cy="667.10" r="7.7" fill="#000000" fill-opacity="0.5"/>
<circle cx="1416.00" cy="639.20" r="7.7" fill="#000000" fill-opacity="0.5"/>
<circle cx="1416.00" cy="645.20" r="7.7" fill="#000000" fill-opacity="0.5"/>
<circle cx="1410.90" cy="660.70" r="7.7" fill="#000000" fill-opacity="0.5"/>
<circle cx="1350.20" cy="672.20" r="7.7" fill="#000000" fill-opacity="0.5"/>
<circle cx="1347.30" cy="682.70" r="7.7" fill="#000000" fill-opacity="0.5"/>
<circle cx="1328.70" cy="684.20" r="7.7" fill="#000000" fill-opacity="0.5"/>
<circle cx="1310.20" cy="687.20" r="7.7" fill="#000000" fill-opacity="0.5"/>
<circle cx="1334.40" cy="715.60" r="7.7" fill="#000000" fill-opacity="0.5"/>
<circle cx="1413.00" cy="695.00" r="7.7" fill="#000000" fill-opacity="0.5"/>
<rect x="1461.20" y="243.20" width="15.60" height="15.60" fill="#0000ff" fill-opacity="0.5"/>
<rect x="1514.10" y="318.70" width="15.60" height="15.60" fill="#0000ff" fill-opacity="0.5"/>
<rect x="1632.90" y="295.20" width="15.60" height="15.60" fill="#0000ff" fill-opacity="0.5"/>
<rect x="1373.90" y="344.00" width="15.60" height="15.60" fill="#0000ff" fill-opacity="0.5"/>
<rect x="1463.80" y="376.90" width="15.60" height="15.60" fill="#0000ff" fill-opacity="0.5"/>
<rect x="1442.60" y="433.50" width="15.60" height="15.60" fill="#0000ff" fill-opacity="0.5"/>
<rect x="1522.00" y="454.30" width="15.60" height="15.60" fill="#0000ff" fill-opacity="0.5"/>
<rect x="1632.90" y="436.90" width="15.60" height="15.60" fill="#0000ff" fill-opacity="0.5"/>
<rect x="1387.00" y="476.00" width="15.60" height="15.60" fill="#0000ff" fill-opacity="0.5"/>
<rect x="1400.50" y="474.70" width="15.60" height="15.60" fill="#0000ff" fill-opacity="0.5"/>
<rect x="1421.60" y="498.30" width="15.60" height="15.60" fill="#0000ff" fill-opacity="0.5"/>
<rect x="1416.20" y="514.30" width="15.60" height="15.60" fill="#0000ff" fill-opacity="0.5"/>
<rect x="1416.20" y="578.50" width="15.60" height="15.60" fill="#0000ff" fill-opacity="0.5"/>
<rect x="1178.00" y="41.30" width="793.00" height="787.60" fill="none" stroke="#000" stroke-width="2.2"/>
<line x1="1178.00" y1="828.90" x2="1178.00" y2="836.40" stroke="#000" stroke-width="2.2"/>
<text x="1178.50" y="870.4" font-size="33.3" text-anchor="middle">50</text>
<line x1="1310.17" y1="828.90" x2="1310.17" y2="836.40" stroke="#000" stroke-width="2.2"/>
<text x="1310.67" y="870.4" font-size="33.3" text-anchor="middle">100</text>
<line x1="1442.33" y1="828.90" x2="1442.33" y2="836.40" stroke="#000" stroke-width="2.2"/>
<text x="1442.83" y="870.4" font-size="33.3" text-anchor="middle">150</text>
<line x1="1574.50" y1="828.90" x2="1574.50" y2="836.40" stroke="#000" stroke-width="2.2"/>
<text x="1575.00" y="870.4" font-size="33.3" text-anchor="middle">200</text>
<line x1="1706.67" y1="828.90" x2="1706.67" y2="836.40" stroke="#000" stroke-width="2.2"/>
<text x="1707.17" y="870.4" font-size="33.3" text-anchor="middle">250</text>
<line x1="1838.83" y1="828.90" x2="1838.83" y2="836.40" stroke="#000" stroke-width="2.2"/>
<text x="1839.33" y="870.4" font-size="33.3" text-anchor="middle">300</text>
<line x1="1971.00" y1="828.90" x2="1971.00" y2="836.40" stroke="#000" stroke-width="2.2"/>
<text x="1971.50" y="870.4" font-size="33.3" text-anchor="middle">350</text>
<line x1="1170.50" y1="828.90" x2="1178.00" y2="828.90" stroke="#000" stroke-width="2.2"/>
<text x="1163.40" y="842.00" font-size="33.3" text-anchor="end">0</text>
<line x1="1170.50" y1="671.38" x2="1178.00" y2="671.38" stroke="#000" stroke-width="2.2"/>
<text x="1163.40" y="684.48" font-size="33.3" text-anchor="end">100</text>
<line x1="1170.50" y1="513.86" x2="1178.00" y2="513.86" stroke="#000" stroke-width="2.2"/>
<text x="1163.40" y="526.96" font-size="33.3" text-anchor="end">200</text>
<line x1="1170.50" y1="356.34" x2="1178.00" y2="356.34" stroke="#000" stroke-width="2.2"/>
<text x="1163.40" y="369.44" font-size="33.3" text-anchor="end">300</text>
<line x1="1170.50" y1="198.82" x2="1178.00" y2="198.82" stroke="#000" stroke-width="2.2"/>
<text x="1163.40" y="211.92" font-size="33.3" text-anchor="end">400</text>
<line x1="1170.50" y1="41.30" x2="1178.00" y2="41.30" stroke="#000" stroke-width="2.2"/>
<text x="1163.40" y="54.40" font-size="33.3" text-anchor="end">500</text>
<text x="1575.00" y="28.1" font-size="37.3" text-anchor="middle">SNe Ia from untargeted searches</text>
<text x="1573.70" y="919.2" font-size="37.3" text-anchor="middle" class="nk">pW4 (Fe II) [<tspan font-style="italic">Å</tspan>]</text>
<text transform="translate(1082.40,436.10) rotate(-90)" x="0" y="0" font-size="37.3" text-anchor="middle" class="nk">pW8 (Ca II IR) [<tspan font-style="italic">Å</tspan>]</text>
<text x="1204.30" y="197.9" font-size="37.3" class="nk">R<tspan font-size="26" dx="1" dy="-14">2</tspan><tspan dx="0.6" dy="14">=0.46</tspan></text>
<text x="1204.60" y="245" font-size="37.3" class="nk"><tspan font-style="italic">r</tspan>=0.68</text>
<rect x="1789.10" y="610.2" width="165.50" height="201.70" rx="5" ry="5" fill="#fff" fill-opacity="0.8" stroke="#cccccc" stroke-width="2"/>
<line x1="1818.40" y1="636.80" x2="1851.20" y2="636.80" stroke="#008000" stroke-opacity="0.5" stroke-width="3.3"/>
<line x1="1834.80" y1="620.40" x2="1834.80" y2="653.20" stroke="#008000" stroke-opacity="0.5" stroke-width="3.3"/>
<polygon points="1834.80,628.95 1842.27,634.37 1839.41,643.15 1830.19,643.15 1827.33,634.37" fill="#008000" fill-opacity="0.5"/>
<text x="1893.50" y="648.80" font-size="33.3">SS</text>
<line x1="1818.40" y1="684.80" x2="1851.20" y2="684.80" stroke="#ff0000" stroke-opacity="0.5" stroke-width="3.3"/>
<line x1="1834.80" y1="668.40" x2="1834.80" y2="701.20" stroke="#ff0000" stroke-opacity="0.5" stroke-width="3.3"/>
<path d="M1834.80,675.80L1826.50,692.80L1843.10,692.80Z" fill="#ff0000" fill-opacity="0.5"/>
<text x="1893.50" y="696.80" font-size="33.3">BL</text>
<line x1="1818.40" y1="732.80" x2="1851.20" y2="732.80" stroke="#000000" stroke-opacity="0.5" stroke-width="3.3"/>
<line x1="1834.80" y1="716.40" x2="1834.80" y2="749.20" stroke="#000000" stroke-opacity="0.5" stroke-width="3.3"/>
<circle cx="1834.80" cy="732.80" r="7.7" fill="#000000" fill-opacity="0.5"/>
<text x="1893.50" y="744.80" font-size="33.3">CN</text>
<line x1="1818.40" y1="780.80" x2="1851.20" y2="780.80" stroke="#0000ff" stroke-opacity="0.5" stroke-width="3.3"/>
<line x1="1834.80" y1="764.40" x2="1834.80" y2="797.20" stroke="#0000ff" stroke-opacity="0.5" stroke-width="3.3"/>
<rect x="1827.00" y="773.00" width="15.60" height="15.60" fill="#0000ff" fill-opacity="0.5"/>
<text x="1893.50" y="792.80" font-size="33.3">CL</text>
<text x="354.6" y="113" font-size="28.8">2007ax</text>
<text x="763.6" y="160.3" font-size="28.8">2005A</text>
</svg></body></html>
